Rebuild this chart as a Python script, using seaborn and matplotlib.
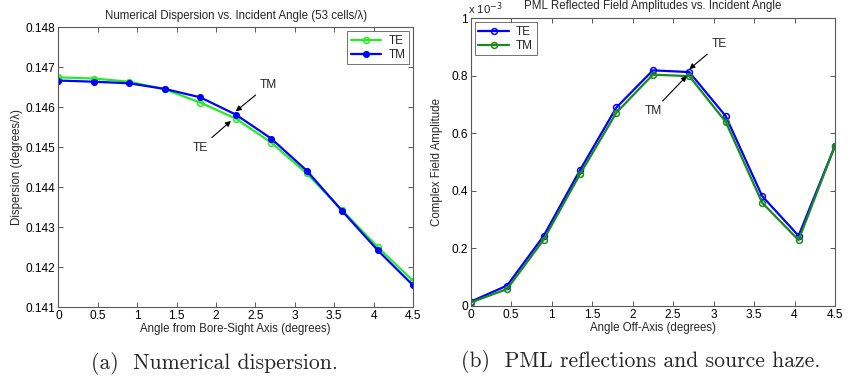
import matplotlib
matplotlib.use("Agg")
import matplotlib.pyplot as plt
import seaborn as sns
import pandas as pd

# Incident angles (degrees)
angles = [0.0, 0.45, 0.9, 1.35, 1.8, 2.25, 2.7, 3.15, 3.6, 4.05, 4.5]

# Numerical dispersion (degrees per wavelength), 53 cells/lambda
disp_te = [0.14675, 0.14672, 0.14664, 0.14645, 0.14612, 0.14572, 0.14512,
           0.14435, 0.14343, 0.14251, 0.14166]
disp_tm = [0.14667, 0.14664, 0.14660, 0.14646, 0.14625, 0.14582, 0.14522,
           0.14442, 0.14341, 0.14243, 0.14155]

# PML reflected field amplitudes, in units of 1e-3
refl_te = [0.015, 0.071, 0.243, 0.472, 0.690, 0.819, 0.813, 0.660, 0.382, 0.244, 0.557]
refl_tm = [0.012, 0.059, 0.230, 0.458, 0.672, 0.804, 0.799, 0.640, 0.359, 0.229, 0.557]

x_ticks = [0, 0.5, 1, 1.5, 2, 2.5, 3, 3.5, 4, 4.5]
x_tick_labels = ["0", "0.5", "1", "1.5", "2", "2.5", "3", "3.5", "4", "4.5"]
disp_ticks = [0.141, 0.142, 0.143, 0.144, 0.145, 0.146, 0.147, 0.148]
refl_ticks = [0, 0.2, 0.4, 0.6, 0.8, 1.0]
refl_tick_labels = ["0", "0.2", "0.4", "0.6", "0.8", "1"]

sns.set_theme(style="white")
plt.rcParams["font.family"] = ["Liberation Sans", "DejaVu Sans"]

fig = plt.figure(figsize=(8.49, 3.81), dpi=100)
ax1 = fig.add_axes([0.0687, 0.1934, 0.4178, 0.7349])
ax2 = fig.add_axes([0.5544, 0.1969, 0.4291, 0.7551])

SPINE = "0.35"
TICK_FS = 8.6
LABEL_FS = 8.3


def style_axes(ax):
    for s in ax.spines.values():
        s.set_color(SPINE)
        s.set_linewidth(0.8)
        s.set_visible(True)
    ax.tick_params(axis="both", which="both", direction="in", length=3.5,
                   width=0.7, color=SPINE, top=True, right=True,
                   bottom=True, left=True, labelsize=TICK_FS,
                   labelcolor="black", pad=2)
    ax.set_facecolor("white")


def add_series(ax, y, label, color, filled):
    df = pd.DataFrame({"angle": angles, "value": y})
    sns.lineplot(data=df, x="angle", y="value", ax=ax, color=color,
                 linewidth=1.6, marker="o", markersize=4.2 if not filled else 4.0,
                 markerfacecolor="none" if not filled else color,
                 markeredgecolor=color, markeredgewidth=1.1, label=label)


# Panel (a): numerical dispersion
add_series(ax1, disp_te, "TE", "#22ee22", filled=False)
add_series(ax1, disp_tm, "TM", "#0000ff", filled=True)
style_axes(ax1)
ax1.set_xlim(0, 4.5)
ax1.set_ylim(0.141, 0.148)
ax1.set_xticks(x_ticks)
ax1.set_xticklabels(x_tick_labels)
ax1.set_yticks(disp_ticks)
ax1.set_yticklabels([f"{v:.3f}" for v in disp_ticks])
ax1.set_xlabel("Angle from Bore-Sight Axis (degrees)", fontsize=LABEL_FS, labelpad=1)
ax1.set_ylabel("Dispersion (degrees/\u03bb)", fontsize=LABEL_FS, labelpad=2)
ax1.set_title("Numerical Dispersion vs. Incident Angle (53 cells/\u03bb)",
              fontsize=LABEL_FS, pad=6)
leg1 = ax1.legend(loc="upper right", fontsize=8.5, frameon=True, fancybox=False,
                  handlelength=2.6, borderpad=0.3, labelspacing=0.15,
                  handletextpad=0.6, borderaxespad=0.35)
leg1.get_frame().set_edgecolor("0.3")
leg1.get_frame().set_linewidth(0.7)

arrow_kw = dict(arrowstyle="-|>", color="black", lw=0.8, mutation_scale=8,
                shrinkA=1, shrinkB=0)
ANN_FS = 8.6
ax1.annotate("TM", xy=(2.25, 0.14590), xytext=(2.66, 0.14656),
             fontsize=ANN_FS, ha="center", va="center", arrowprops=arrow_kw)
ax1.annotate("TE", xy=(2.19, 0.14566), xytext=(1.80, 0.14499),
             fontsize=ANN_FS, ha="center", va="center", arrowprops=arrow_kw)

# Panel (b): PML reflections
add_series(ax2, refl_te, "TE", "#0000ff", filled=False)
add_series(ax2, refl_tm, "TM", "#1a8a1a", filled=False)
style_axes(ax2)
ax2.set_xlim(0, 4.5)
ax2.set_ylim(0, 1.0)
ax2.set_xticks(x_ticks)
ax2.set_xticklabels(x_tick_labels)
ax2.set_yticks(refl_ticks)
ax2.set_yticklabels(refl_tick_labels)
ax2.set_xlabel("Angle Off-Axis (degrees)", fontsize=LABEL_FS, labelpad=1)
ax2.set_ylabel("Complex Field Amplitude", fontsize=LABEL_FS, labelpad=6)
ax2.set_title("PML Reflected Field Amplitudes vs. Incident Angle",
              fontsize=LABEL_FS, pad=7)
ax2.text(-0.008, 1.004, "x 10$^{-3}$", transform=ax2.transAxes, fontsize=8.2,
         ha="left", va="bottom")
leg2 = ax2.legend(loc="upper left", fontsize=8.5, frameon=True, fancybox=False,
                  handlelength=2.6, borderpad=0.3, labelspacing=0.15,
                  handletextpad=0.6, borderaxespad=0.35)
leg2.get_frame().set_edgecolor("0.3")
leg2.get_frame().set_linewidth(0.7)

ax2.annotate("TE", xy=(2.70, 0.823), xytext=(3.07, 0.91),
             fontsize=ANN_FS, ha="center", va="center", arrowprops=arrow_kw)
ax2.annotate("TM", xy=(2.67, 0.800), xytext=(2.25, 0.677),
             fontsize=ANN_FS, ha="center", va="center", arrowprops=arrow_kw)

# Sub-figure captions
fig.text(0.253, 0.047, "(a)  Numerical dispersion.", family="cmr10",
         fontsize=15.6, ha="center", va="center")
fig.text(0.755, 0.050, "(b)  PML reflections and source haze.", family="cmr10",
         fontsize=15.6, ha="center", va="center")

fig.savefig("out.png", dpi=100)
